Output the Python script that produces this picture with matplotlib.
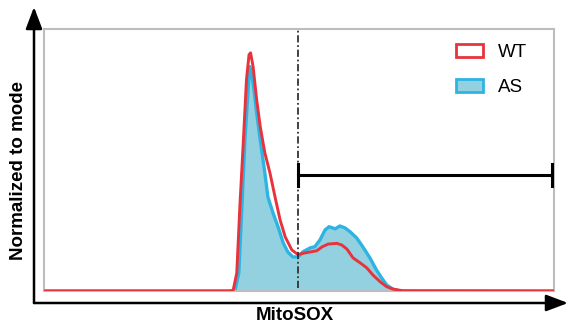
import matplotlib
matplotlib.use("Agg")
import matplotlib.pyplot as plt
from matplotlib.patches import Patch, FancyArrowPatch, ArrowStyle

plt.rcParams['font.family'] = ['Liberation Sans', 'DejaVu Sans']

# MitoSOX intensity (arbitrary units, 0-100) and normalized-to-mode counts
wt_x = [0, 36.5, 37.1, 37.8, 38.4, 39.1, 39.7, 40.2, 40.5, 41.0, 41.7, 42.4, 43.3, 44.3,
        45.3, 46.3, 47.3, 48.6, 49.8, 51.2, 52.5, 53.5, 54.5, 55.7, 57.4, 58.4, 59.4,
        60.6, 62.0, 63.3, 64.5, 65.9, 67.2, 68.4, 70.4, 100]
wt_y = [0, 0, 0.4, 7.6, 35.3, 63.4, 88.7, 99.2, 100, 94.2, 80.3, 69.0, 58.0, 49.6,
        39.5, 29.8, 22.7, 17.2, 15.3, 16.0, 16.5, 16.9, 18.5, 19.7, 20.0, 19.3, 17.6,
        13.9, 11.8, 9.7, 6.7, 3.9, 1.8, 0.8, 0.1, 0]

as_x = [0, 36.9, 37.5, 38.2, 38.8, 39.4, 40.1, 40.4, 41.0, 41.7, 42.4, 43.3, 43.9,
        44.9, 45.9, 46.9, 47.8, 48.8, 49.8, 50.8, 52.2, 53.1, 54.1, 55.1, 55.9, 57.1,
        58.0, 59.0, 60.0, 61.3, 62.5, 63.9, 65.2, 66.2, 67.2, 68.4, 69.8, 100]
as_y = [0, 0, 0.8, 7.6, 35.3, 63.4, 87.4, 94.2, 87.4, 74.8, 63.4, 49.6, 39.5,
        32.8, 26.9, 20.2, 16.4, 14.3, 14.3, 16.5, 18.1, 18.6, 21.4, 25.6, 27.0, 26.1,
        27.3, 26.5, 24.9, 22.3, 18.6, 13.9, 8.8, 5.5, 2.5, 0.8, 0, 0]

gate_start = 49.8
gate_end = 99.6
gate_y = 48.7

labels = ['WT', 'AS']
x_label = 'MitoSOX'
y_label = 'Normalized to mode'

red = '#e8333d'
blue_edge = '#2eb4e2'
blue_fill = '#93d0e0'

fig = plt.figure(figsize=(5.69, 3.27), dpi=100)
ax = fig.add_axes([44/569, 36/327, 510/569, 262/327])
ax.set_xlim(0, 100)
ax.set_ylim(0, 110)
for s in ax.spines.values():
    s.set_color('#bdbdbd')
    s.set_linewidth(1.5)
ax.set_xticks([])
ax.set_yticks([])

ax.fill_between(as_x, as_y, 0, color=blue_fill, lw=0, zorder=1)
ax.plot(as_x, as_y, color=blue_edge, lw=2.4, zorder=2, solid_joinstyle='round')
ax.plot(wt_x, wt_y, color=red, lw=2.1, zorder=3, solid_joinstyle='round')

# gate
ax.axvline(gate_start, ymin=1.3/110, ymax=1, color='#333333', lw=1.3,
           ls=(0, (4, 1.5, 1, 1.5)), zorder=4)
ax.plot([gate_start, gate_end], [gate_y, gate_y], color='black', lw=2.2, zorder=5)
ax.plot([gate_start, gate_start], [gate_y - 4.6, gate_y + 4.6], color='black', lw=2.2, zorder=5)
ax.plot([gate_end, gate_end], [gate_y - 4.6, gate_y + 4.6], color='black', lw=2.2, zorder=5)

handles = [Patch(facecolor='white', edgecolor=red, lw=2, label=labels[0]),
           Patch(facecolor=blue_fill, edgecolor=blue_edge, lw=2, label=labels[1])]
ax.legend(handles=handles, loc='upper left', bbox_to_anchor=((456 - 44) / 510, 1 - 15 / 262),
          frameon=False, fontsize=13.5, handlelength=1.45, handleheight=0.72,
          handletextpad=0.8, labelspacing=0.95, borderpad=0, borderaxespad=0)

# outer axes arrows
style = ArrowStyle('-|>', head_length=0.95, head_width=0.36)
fig.add_artist(FancyArrowPatch((34/569, 24/327), (34/569, 320/327), transform=fig.transFigure,
                               arrowstyle=style, mutation_scale=14, color='black', lw=1.8,
                               shrinkA=0, shrinkB=0))
fig.add_artist(FancyArrowPatch((34/569, 24/327), (568/569, 24/327), transform=fig.transFigure,
                               arrowstyle=style, mutation_scale=14, color='black', lw=1.8,
                               shrinkA=0, shrinkB=0))

fig.text(295/569, 11/327, x_label, ha='center', va='center', fontsize=13.5, fontweight='bold')
fig.text(19/569, 157/327, y_label, ha='center', va='center', rotation=90,
         fontsize=13.5, fontweight='bold')

fig.savefig('out.png', dpi=100)
